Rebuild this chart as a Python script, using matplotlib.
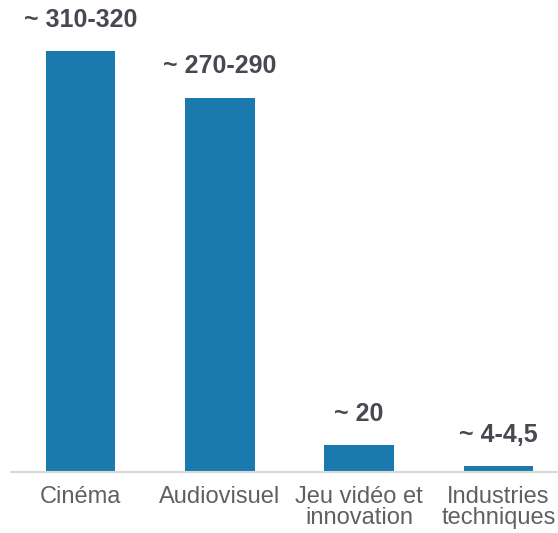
import numpy as np
import matplotlib.pyplot as plt

plt.rcParams['font.family'] = ['Liberation Sans', 'DejaVu Sans']

categories = ["Cinéma", "Audiovisuel", "Jeu vidéo et\ninnovation", "Industries\ntechniques"]
values = [315, 280, 20, 4.25]  # midpoints of the quoted ranges
value_labels = ["310-320", "270-290", "20", "4-4,5"]

W, H = 558, 533
fig = plt.figure(figsize=(W / 100, H / 100), dpi=100)
# axes in pixel terms: baseline at y=472, bars spaced ~139.3 px apart
step = 139.3
left_px = 11
x0_px = 80.5
bottom_px = H - 472
top_scale = 1.336  # px per unit
ymax = 400
ax = fig.add_axes([left_px / W, bottom_px / H,
                   (x0_px + 3.5 * step - left_px) / W, ymax * top_scale / H])
x = np.arange(len(categories))
ax.bar(x, values, width=0.5, color='#1a7aad')
ax.set_xlim(-(x0_px - left_px) / step, 3.5)
ax.set_ylim(0, ymax)

for xi, v, lab in zip(x, values, value_labels):
    ax.annotate("~ " + lab, (xi, v), xytext=(0, 14), textcoords='offset points',
                ha='center', va='bottom', fontsize=18, fontweight='bold', color='#4b4651')

ax.set_yticks([])
ax.set_xticks(x)
ax.set_xticklabels(categories, fontsize=17, color='#606060', linespacing=0.95)
ax.tick_params(axis='x', length=0, pad=10)
for s in ['top', 'right', 'left']:
    ax.spines[s].set_visible(False)
ax.spines['bottom'].set_color('#d9d9d9')
ax.spines['bottom'].set_linewidth(1.5)

fig.savefig('out.png', dpi=100)
